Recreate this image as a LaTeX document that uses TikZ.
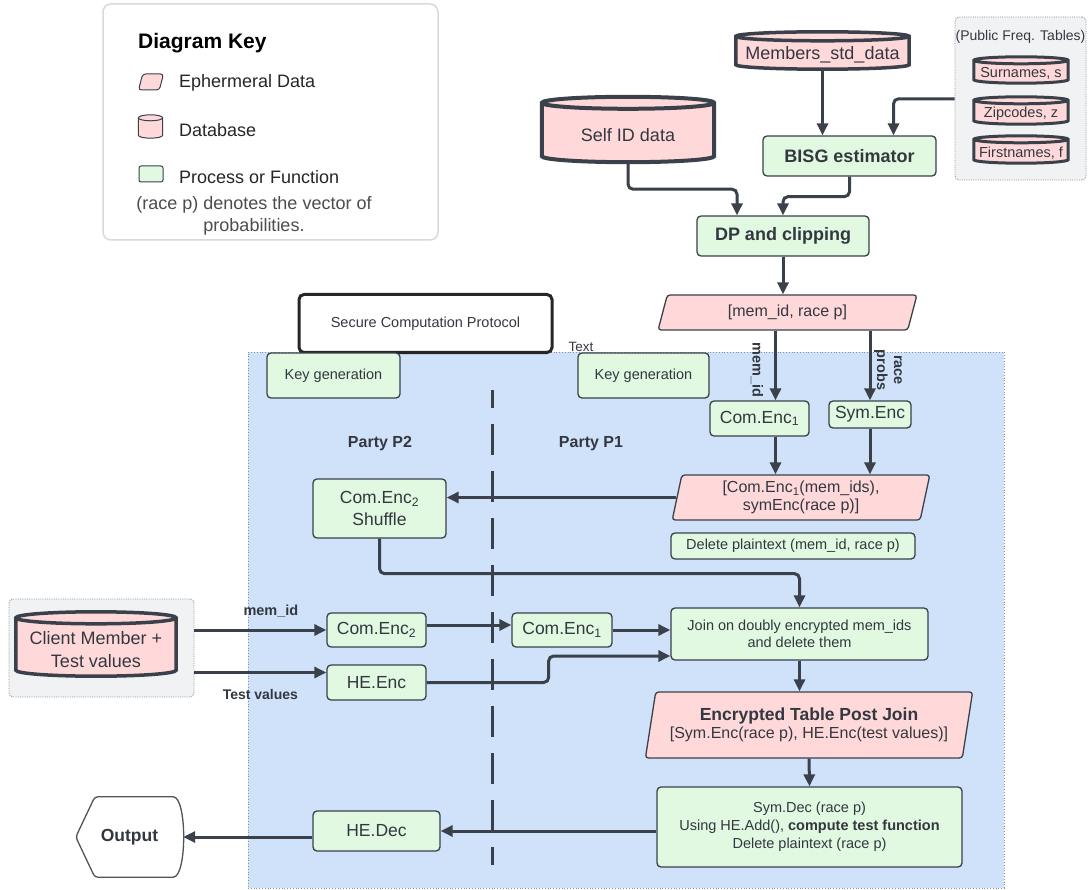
\documentclass[tikz,border=0pt]{standalone}
\usepackage{fontspec}
\setmainfont{Liberation Sans}
\usepackage{tikz}
\usetikzlibrary{arrows.meta,calc,shapes.geometric}

\definecolor{ink}{HTML}{3A414A}
\definecolor{txt}{HTML}{333840}
\definecolor{datapink}{HTML}{FFD9D9}
\definecolor{procgreen}{HTML}{E1F8E1}
\definecolor{zoneblue}{HTML}{CFE2F9}
\definecolor{panelgray}{HTML}{F1F2F4}
\definecolor{rim}{HTML}{8E939B}

\pgfdeclarelayer{back}
\pgfdeclarelayer{mid}
\pgfsetlayers{back,mid,main}

\newcommand{\fsz}[2]{\fontsize{#1}{#2}\selectfont}
% database drum drawn behind a named node: node, end radius, rim width
\newcommand{\dbshape}[3]{%
  \begin{pgfonlayer}{mid}
  \filldraw[fill=datapink,draw=ink,line width=#3]
    let \p1=(#1.north west), \p2=(#1.south east), \n1={(\x2-\x1)/2} in
    (\x1,\y1+#2) -- (\x1,\y2+#2)
    arc[start angle=180,end angle=360,x radius=\n1,y radius=#2]
    -- (\x2,\y1+#2)
    arc[start angle=0,end angle=180,x radius=\n1,y radius=#2] -- cycle
    (\x1,\y1+#2) arc[start angle=180,end angle=360,x radius=\n1,y radius=#2];
  \end{pgfonlayer}}

\begin{document}
\begin{tikzpicture}[x=1pt,y=-1pt,>={Triangle[length=12pt,width=11pt]},
  every node/.style={text=txt,inner sep=0pt},
  proc/.style={draw=ink,line width=1.3pt,fill=procgreen,rounded corners=4pt,align=center,font=\fsz{17.5}{21}},
  eph/.style={trapezium,trapezium stretches=true,trapezium left angle=76,trapezium right angle=104,inner sep=2pt,
    draw=ink,line width=1.3pt,fill=datapink,rounded corners=3pt,align=center,font=\fsz{16}{18}},
  dbtext/.style={align=center,font=\fsz{17.5}{22}},
  panel/.style={draw=rim,densely dotted,line width=0.8pt,fill=panelgray,rounded corners=4pt},
  flow/.style={->,draw=ink,line width=3pt,rounded corners=5pt},
  tag/.style={font=\bfseries\fsz{14.5}{17}}]
\useasboundingbox (0,0) rectangle (1089,890);

% === Backgrounds ===
\begin{pgfonlayer}{back}
\node[draw=black!15,line width=1.5pt,rounded corners=8pt,fill=white,minimum width=335pt,minimum height=236pt] (keybox) at (270.5,122) {};
\node[fill=zoneblue,draw=rim,dotted,line width=0.8pt,minimum width=756pt,minimum height=536pt] (zone) at (626,620) {};
\node[panel,minimum width=131pt,minimum height=163pt] (pubbox) at (1020.5,98.5) {};
\node[panel,minimum width=185pt,minimum height=98pt] (clientbox) at (101.5,648) {};
\end{pgfonlayer}

% === Diagram key ===
\node[anchor=west,text=black,font=\bfseries\fsz{21}{25}] (keytitle) at (138,43) {Diagram Key};
\node[eph,minimum width=25pt,minimum height=16pt,line width=1pt] (keyeph) at (151,82) {};
\node[anchor=west,text=black!85,font=\fsz{18}{21}] (keyephtxt) at (179,83) {Ephermeral Data};
\node[minimum width=24pt,minimum height=17pt] (keydb) at (150.5,129.5) {};
\dbshape{keydb}{3pt}{1pt}
\node[anchor=west,text=black!85,font=\fsz{18}{21}] (keydbtxt) at (179,130) {Database};
\node[proc,minimum width=24pt,minimum height=16pt,line width=1pt,rounded corners=2pt] (keyproc) at (151,174) {};
\node[anchor=west,text=black!85,font=\fsz{18}{21}] (keyproctxt) at (179,177) {Process or Function};
\node[align=center,text=black!70,font=\fsz{18}{22.5}] (keynote) at (254,216) {(race p) denotes the vector of\\probabilities.};

% === Inputs and BISG ===
\node[dbtext,font=\fsz{18}{22},minimum width=173pt,minimum height=28pt] (members) at (822.5,55) {Members\_std\_data};
\dbshape{members}{4.5pt}{3.5pt}
\node[dbtext,font=\fsz{18}{22},minimum width=172pt,minimum height=53pt] (selfid) at (628,135.5) {Self ID data};
\dbshape{selfid}{6pt}{4pt}
\node[font=\fsz{14}{17}] (pubtitle) at (1020.5,37) {(Public Freq. Tables)};
\node[dbtext,font=\fsz{14.5}{17},minimum width=94pt,minimum height=19pt] (surnames) at (1021,73.5) {Surnames, s};
\dbshape{surnames}{3.5pt}{3pt}
\node[dbtext,font=\fsz{14.5}{17},minimum width=94pt,minimum height=20pt] (zipcodes) at (1021,114) {Zipcodes, z};
\dbshape{zipcodes}{3.5pt}{3pt}
\node[dbtext,font=\fsz{14.5}{17},minimum width=94pt,minimum height=20pt] (firstnames) at (1021,153) {Firstnames, f};
\dbshape{firstnames}{3.5pt}{3pt}
\node[proc,font=\bfseries\fsz{18}{21},minimum width=173pt,minimum height=40pt] (bisg) at (849.5,156) {BISG estimator};
\node[proc,font=\bfseries\fsz{18}{21},minimum width=172pt,minimum height=40pt] (dp) at (783,236) {DP and clipping};
\node[eph,minimum width=259pt,minimum height=35pt] (mem) at (787.5,312.5) {[mem\_id, race p]};

\draw[flow] (members.south) -- (members.south |- bisg.north);
\draw[flow] ([yshift=5pt]zipcodes.north -| pubbox.west) -| ([xshift=44pt]bisg.north);
\draw[flow] (selfid.south) -- ++(0,27) -| ([xshift=-46pt]dp.north);
\draw[flow] (bisg.south) -- ++(0,20) -| (dp.north);
\draw[flow] (dp.south) -- (dp.south |- mem.north);

% === Secure computation ===
\node[draw=black!85,line width=3pt,rounded corners=5pt,fill=white,font=\fsz{14.5}{17},minimum width=253pt,minimum height=58pt] (scp) at (425.5,323.5) {Secure Computation Protocol};
\node[font=\fsz{13.5}{16}] (stray) at (581,347) {Text};
\node[proc,font=\fsz{14.5}{17},minimum width=133pt,minimum height=45pt] (keyp2) at (333.5,375.5) {Key generation};
\node[proc,font=\fsz{14.5}{17},minimum width=131pt,minimum height=45pt] (keyp1) at (643.5,375.5) {Key generation};
\node[font=\bfseries\fsz{16}{19}] (p2) at (380,444) {Party P2};
\node[font=\bfseries\fsz{16}{19}] (p1) at (591,444) {Party P1};
\coordinate (divtop) at (492,390);
\coordinate (divbot) at (492,865);
\draw[ink,line width=3pt,dash pattern=on 31pt off 16pt,dash phase=13pt] (divtop) -- (divbot);

% P1 encrypts
\node[proc,minimum width=99pt,minimum height=35pt] (comenc1) at (759.5,418.5) {Com.Enc\textsubscript{1}};
\node[proc,minimum width=82pt,minimum height=27pt] (symenc) at (870,414.5) {Sym.Enc};
\node[eph,trapezium left angle=80,trapezium right angle=100,minimum width=258pt,minimum height=45pt] (encids) at (801,497.5) {[Com.Enc\textsubscript{1}(mem\_ids),\\symEnc(race p)]};
\node[proc,font=\fsz{14.5}{17},minimum width=244pt,minimum height=26pt] (delplain) at (793,546) {Delete plaintext (mem\_id, race p)};
\node[tag,rotate=-90] (lblmem) at (757,370) {mem\_id};
\node[tag,rotate=-90,align=center] (lblrace) at (888,370) {race\\probs};

\draw[flow] ([xshift=16pt]comenc1.north |- mem.south) -- ([xshift=16pt]comenc1.north);
\draw[flow] (symenc.north |- mem.south) -- (symenc.north);
\draw[flow] ([xshift=16pt]comenc1.south) -- ([xshift=16pt]comenc1.south |- encids.north);
\draw[flow] (symenc.south) -- (symenc.south |- encids.north);

% P2 shuffles, then the join
\node[proc,minimum width=133pt,minimum height=59pt,font=\fsz{17.5}{22}] (shuffle) at (379.5,508.5) {Com.Enc\textsubscript{2}\\Shuffle};
\node[proc,font=\fsz{14.5}{17.5},minimum width=257pt,minimum height=52pt] (join) at (799.5,634) {Join on doubly encrypted mem\_ids\\and delete them};
\draw[flow] (encids.west) -- (encids.west -| shuffle.east);
\draw[flow] (shuffle.south) -- ++(0,35) -| (join.north);

% Client side
\node[dbtext,font=\fsz{18}{23},minimum width=160pt,minimum height=52pt] (client) at (96,650) {Client Member +\\Test values};
\dbshape{client}{6pt}{3.5pt}
\node[proc,minimum width=99pt,minimum height=34pt] (comenc2) at (376.5,630) {Com.Enc\textsubscript{2}};
\node[proc,minimum width=99pt,minimum height=35pt] (heenc) at (376.5,682.5) {HE.Enc};
\node[proc,minimum width=100pt,minimum height=34pt] (comenc1b) at (562,630) {Com.Enc\textsubscript{1}};

\draw[flow] (clientbox.east |- comenc2.west) -- (comenc2.west) node[tag,pos=0.58,above=11pt] (lblid) {mem\_id};
\draw[flow] ([yshift=10pt]heenc.west -| clientbox.east) -- ([yshift=10pt]heenc.west) node[tag,font=\bfseries\fsz{14}{17},pos=0.5,below=15pt] (lblval) {Test values};
\draw[flow] ([yshift=5pt]comenc2.east) -- ([yshift=5pt]comenc2.east -| comenc1b.west);
\draw[flow] (comenc1b.east) -- (comenc1b.east -| join.west);
\draw[flow] (heenc.east) -- ++(122,0) |- ([yshift=-22pt]join.west);

% === Result ===
\node[eph,minimum width=328pt,minimum height=66pt] (enctab) at (809,725) {{\bfseries\fsz{17.5}{22}Encrypted Table Post Join}\\{}[Sym.Enc(race p), HE.Enc(test values)]};
\node[proc,font=\fsz{14.5}{18},minimum width=305pt,minimum height=80pt] (compute) at (809.5,827) {Sym.Dec (race p)\\Using HE.Add(), \textbf{compute test function}\\Delete plaintext (race p)};
\node[proc,minimum width=127pt,minimum height=40pt] (hedec) at (376.5,831) {HE.Dec};
\node[font=\bfseries\fsz{17.5}{21},minimum width=107pt,minimum height=80pt] (out) at (129.5,837) {Output};
\draw[draw=ink!90,line width=1.3pt,rounded corners=3pt] (out.west) -- ([xshift=19pt]out.north west) -- ([xshift=-13pt]out.north east)
  .. controls ([xshift=4pt]out.north east) and ([xshift=4pt]out.south east) .. ([xshift=-13pt]out.south east)
  -- ([xshift=19pt]out.south west) -- cycle;

\draw[flow] (join.south) -- (join.south |- enctab.north);
\draw[flow] (enctab.south) -- (compute.north);
\draw[flow] (compute.west |- hedec.east) -- (hedec.east);
\draw[flow] (hedec.west |- out.east) -- (out.east);
\end{tikzpicture}
\end{document}
